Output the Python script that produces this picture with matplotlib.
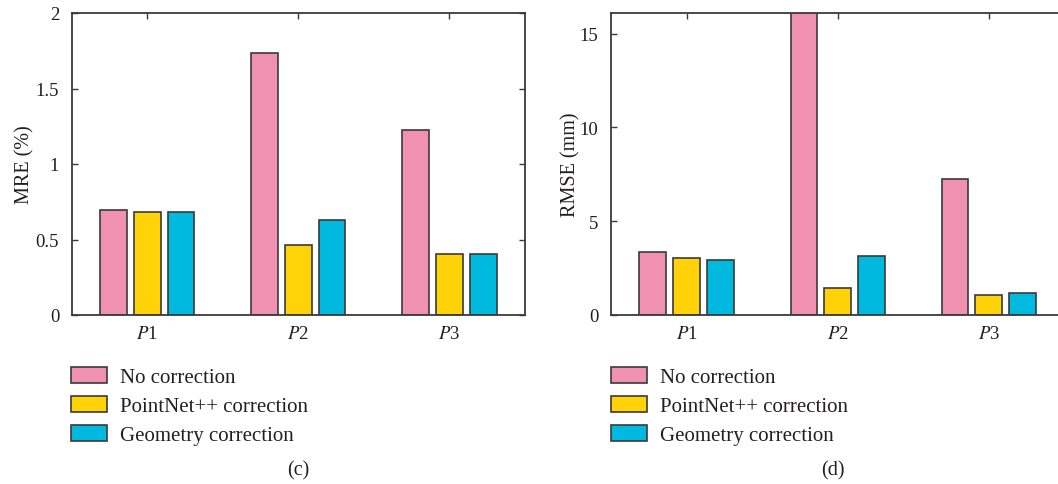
import matplotlib
matplotlib.use("Agg")
import matplotlib.pyplot as plt
import numpy as np

plt.rcParams['font.family'] = ['Liberation Serif', 'DejaVu Serif']
plt.rcParams['mathtext.fontset'] = 'stix'

categories = ["$P$1", "$P$2", "$P$3"]
series = ["No correction", "PointNet++ correction", "Geometry correction"]
mre = {
    "No correction": [0.697, 1.733, 1.223],
    "PointNet++ correction": [0.684, 0.466, 0.406],
    "Geometry correction": [0.684, 0.631, 0.406],
}
rmse = {
    "No correction": [3.38, 16.5, 7.26],
    "PointNet++ correction": [3.02, 1.46, 1.07],
    "Geometry correction": [2.92, 3.15, 1.17],
}
mre_ticks = [0, 0.5, 1, 1.5, 2]
mre_ticklabels = ["0", "0.5", "1", "1.5", "2"]
rmse_ticks = [0, 5, 10, 15]
rmse_ticklabels = ["0", "5", "10", "15"]
colors = ["#F191B1", "#FFD308", "#00B9DE"]
edge = "#3a3a3a"
txt = "#231f20"

W, H = 1058, 485
fig = plt.figure(figsize=(W / 100, H / 100), dpi=100)

def make_axes(x0px, ylabel, data, ylim, ticks, ticklabels, ylabel_x, legend_x, caption, cap_x):
    ax = fig.add_axes([x0px / W, (H - 316) / H, 453.3 / W, 302 / H])
    x = np.arange(1, len(categories) + 1)
    bw = 0.176
    step = 0.224
    for i, s in enumerate(series):
        ax.bar(x + (i - 1) * step, data[s], width=bw, color=colors[i],
               edgecolor=edge, linewidth=1.2, label=s, zorder=2)
    ax.set_xlim(0.5, 3.5)
    ax.set_ylim(*ylim)
    ax.set_xticks(x)
    ax.set_xticklabels(categories, fontsize=13.5)
    ax.set_yticks(ticks)
    ax.set_yticklabels(ticklabels, fontsize=13.5)
    ax.tick_params(axis='both', direction='in', length=4, width=1.0,
                   color=edge, top=True, right=True, labelcolor=txt)
    ax.tick_params(axis='y', pad=9)
    ax.tick_params(axis='x', pad=7)
    for sp in ax.spines.values():
        sp.set_color(edge)
        sp.set_linewidth(1.3)
    ax.set_ylabel(ylabel, fontsize=14.5, color=txt)
    ax.yaxis.set_label_coords(ylabel_x, 0.5)
    handles, labels = ax.get_legend_handles_labels()
    fig.legend(handles, labels, loc='upper left',
               bbox_to_anchor=(legend_x / W, 1 - 368 / H),
               bbox_transform=fig.transFigure, frameon=False,
               fontsize=15, handlelength=1.73, handleheight=0.77,
               handletextpad=0.62, labelspacing=0.44, borderpad=0,
               borderaxespad=0, labelcolor=txt)
    fig.text(cap_x / W, 1 - 471 / H, caption, ha='center', va='center',
             fontsize=14.5, color=txt)
    return ax

make_axes(71.7, "MRE (%)", mre, (0, 2), mre_ticks, mre_ticklabels,
          -0.083, 71, "(c)", 298)
make_axes(611, "RMSE (mm)", rmse, (0, 16.1), rmse_ticks, rmse_ticklabels,
          -0.068, 611, "(d)", 833)

fig.savefig("out.png", dpi=100)
